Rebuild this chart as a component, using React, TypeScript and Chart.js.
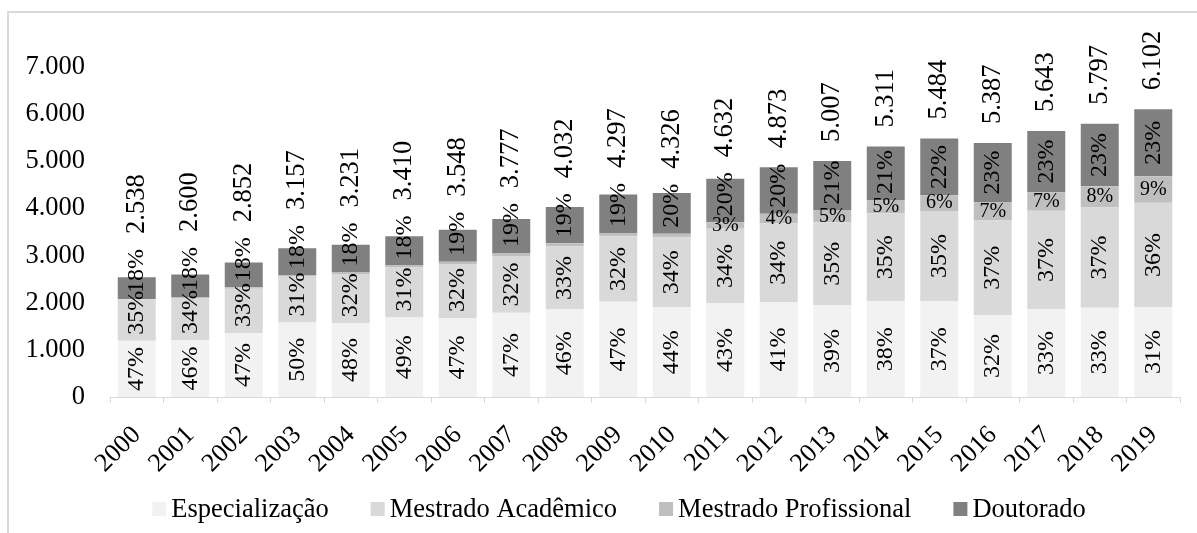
import React, { useEffect, useRef } from 'react';
import { Chart, registerables } from 'chart.js';

Chart.register(...registerables);

const years = ['2000', '2001', '2002', '2003', '2004', '2005', '2006', '2007', '2008', '2009', '2010', '2011', '2012', '2013', '2014', '2015', '2016', '2017', '2018', '2019'];
const totals = [2538, 2600, 2852, 3157, 3231, 3410, 3548, 3777, 4032, 4297, 4326, 4632, 4873, 5007, 5311, 5484, 5387, 5643, 5797, 6102];
const especializacao = [1193, 1207, 1355, 1579, 1565, 1685, 1675, 1785, 1860, 2020, 1903, 1992, 2010, 1953, 2030, 2029, 1740, 1862, 1895, 1905];
const mestradoAcademico = [883, 895, 942, 990, 1046, 1070, 1148, 1207, 1332, 1391, 1483, 1575, 1670, 1752, 1870, 1919, 2005, 2088, 2125, 2215];
const mestradoProfissional = [5, 20, 30, 20, 30, 35, 45, 60, 70, 70, 75, 139, 205, 250, 280, 329, 390, 395, 450, 560];
const doutorado = [457, 478, 525, 568, 590, 620, 680, 725, 770, 816, 865, 926, 988, 1052, 1131, 1207, 1252, 1298, 1327, 1422];

const pctEspecializacao = ['47%', '46%', '47%', '50%', '48%', '49%', '47%', '47%', '46%', '47%', '44%', '43%', '41%', '39%', '38%', '37%', '32%', '33%', '33%', '31%'];
const pctMestradoAcademico = ['35%', '34%', '33%', '31%', '32%', '31%', '32%', '32%', '33%', '32%', '34%', '34%', '34%', '35%', '35%', '35%', '37%', '37%', '37%', '36%'];
const pctMestradoProfissional = [null, null, null, null, null, null, null, null, null, null, null, '3%', '4%', '5%', '5%', '6%', '7%', '7%', '8%', '9%'];
const pctDoutorado = ['18%', '18%', '18%', '18%', '18%', '18%', '19%', '19%', '19%', '19%', '20%', '20%', '20%', '21%', '21%', '22%', '23%', '23%', '23%', '23%'];

const seriesNames = ['Especialização', 'Mestrado Acadêmico', 'Mestrado Profissional', 'Doutorado'];
const seriesColors = ['#f2f2f2', '#d9d9d9', '#bfbfbf', '#808080'];
const pctLabels = [pctEspecializacao, pctMestradoAcademico, pctMestradoProfissional, pctDoutorado];
const horizontalLabelSeries = [false, false, true, false];

const yMin = 0;
const yMax = 7000;
const yStep = 1000;

const FONT = '"Liberation Serif", "Times New Roman", serif';

function fmt(v: number): string {
  const n = Math.round(v);
  if (n < 1000) return String(n);
  return `${Math.floor(n / 1000)}.${String(n % 1000).padStart(3, '0')}`;
}

const labelsPlugin = {
  id: 'segmentLabels',
  afterDatasetsDraw(chart: any) {
    const ctx = chart.ctx as CanvasRenderingContext2D;
    ctx.save();
    ctx.fillStyle = '#000000';
    const topOfTopLabel: number[] = [];
    const barTops: number[] = [];
    const barXs: number[] = [];
    chart.data.datasets.forEach((ds: any, di: number) => {
      const meta = chart.getDatasetMeta(di);
      meta.data.forEach((el: any, i: number) => {
        const p = el.getProps(['x', 'y', 'base'], true);
        const top = Math.min(p.y, p.base);
        const bottom = Math.max(p.y, p.base);
        barXs[i] = p.x;
        barTops[i] = barTops[i] === undefined ? top : Math.min(barTops[i], top);
        const txt = pctLabels[di][i];
        if (!txt) return;
        const c = (top + bottom) / 2;
        if (horizontalLabelSeries[di]) {
          ctx.font = `20px ${FONT}`;
          ctx.textAlign = 'center';
          ctx.textBaseline = 'middle';
          ctx.fillText(txt, p.x, c);
        } else {
          ctx.font = `24px ${FONT}`;
          const w = ctx.measureText(txt).width;
          const lb = Math.min(c + w / 2, bottom - 6);
          ctx.save();
          ctx.translate(p.x, lb);
          ctx.rotate(-Math.PI / 2);
          ctx.textAlign = 'left';
          ctx.textBaseline = 'middle';
          ctx.fillText(txt, 0, 0);
          ctx.restore();
          if (di === chart.data.datasets.length - 1) topOfTopLabel[i] = lb - w;
        }
      });
    });
    ctx.font = `26.5px ${FONT}`;
    totals.forEach((t, i) => {
      const txt = fmt(t);
      const bt = barTops[i];
      let lb = bt - 19;
      if (topOfTopLabel[i] !== undefined) lb = Math.min(lb, topOfTopLabel[i] - 15);
      ctx.save();
      ctx.translate(barXs[i], lb);
      ctx.rotate(-Math.PI / 2);
      ctx.textAlign = 'left';
      ctx.textBaseline = 'middle';
      ctx.fillText(txt, 0, 0);
      ctx.restore();
    });
    ctx.restore();
  },
  afterDraw(chart: any) {
    const ctx = chart.ctx as CanvasRenderingContext2D;
    ctx.save();
    ctx.font = `26.5px ${FONT}`;
    const box = 14;
    const gapText = 5;
    const gapItem = 42;
    const items = chart.data.datasets.map((ds: any) => ({
      label: ds.label as string,
      color: ds.backgroundColor as string,
      w: ctx.measureText(ds.label).width,
    }));
    const totalW = items.reduce((s: number, it: any) => s + box + gapText + it.w, 0) + gapItem * (items.length - 1);
    const centerX = 619;
    const cy = 509;
    let x = centerX - totalW / 2;
    items.forEach((it: any) => {
      ctx.fillStyle = it.color;
      ctx.fillRect(x, cy - box / 2, box, box);
      ctx.fillStyle = '#000000';
      ctx.textAlign = 'left';
      ctx.textBaseline = 'middle';
      ctx.fillText(it.label, x + box + gapText, cy + 1);
      x += box + gapText + it.w + gapItem;
    });
    ctx.restore();
  },
};

export default function App() {
  const ref = useRef<HTMLCanvasElement | null>(null);

  useEffect(() => {
    if (!ref.current) return;
    const seriesData = [especializacao, mestradoAcademico, mestradoProfissional, doutorado];
    const chart = new Chart(ref.current, {
      type: 'bar',
      data: {
        labels: years,
        datasets: seriesNames.map((name, i) => ({
          label: name,
          data: seriesData[i],
          backgroundColor: seriesColors[i],
          borderWidth: 0,
          categoryPercentage: 1,
          barPercentage: 0.71,
        })),
      },
      options: {
        responsive: false,
        animation: false,
        devicePixelRatio: 1,
        layout: { padding: { left: 0, right: 17, top: 67, bottom: 0 } },
        plugins: {
          legend: { display: false },
          tooltip: { enabled: false },
          title: { display: false },
        },
        scales: {
          x: {
            stacked: true,
            offset: true,
            grid: {
              display: true,
              drawOnChartArea: false,
              drawTicks: true,
              tickLength: 6,
              color: '#d9d9d9',
              offset: true,
            },
            border: { display: true, color: '#d9d9d9', width: 1 },
            ticks: {
              autoSkip: false,
              minRotation: 45,
              maxRotation: 45,
              padding: 17,
              color: '#000000',
              font: { family: FONT, size: 26 },
            },
            afterFit: (scale: any) => {
              scale.height = 136;
            },
          },
          y: {
            stacked: true,
            min: yMin,
            max: yMax,
            grid: { display: false, drawTicks: false },
            border: { display: false },
            ticks: {
              stepSize: yStep,
              autoSkip: false,
              padding: 25,
              color: '#000000',
              font: { family: FONT, size: 26.5 },
              callback: (v: any) => fmt(Number(v)),
            },
            afterFit: (scale: any) => {
              scale.width = 110;
            },
          },
        },
      },
      plugins: [labelsPlugin],
    });
    return () => chart.destroy();
  }, []);

  return (
    <div style={{ position: 'absolute', left: 0, top: 0, width: 1197, height: 533, overflow: 'hidden', background: '#ffffff' }}>
      <div style={{ position: 'absolute', left: 7, top: 11, width: 1300, height: 700, border: '2px solid #d9d9d9', boxSizing: 'border-box' }} />
      <canvas ref={ref} width={1197} height={533} style={{ position: 'absolute', left: 0, top: 0, width: 1197, height: 533 }} />
    </div>
  );
}
